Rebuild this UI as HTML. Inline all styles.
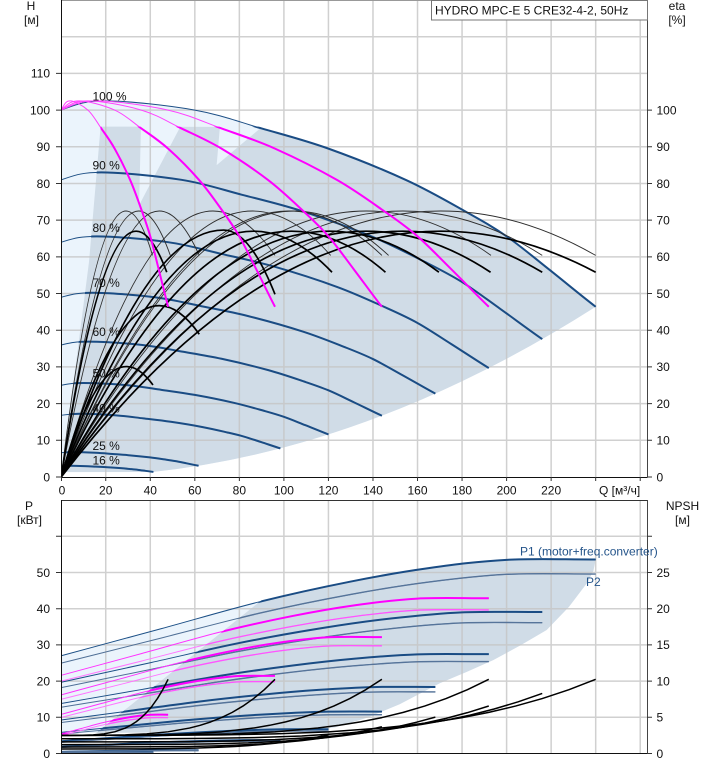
<!DOCTYPE html>
<html><head><meta charset="utf-8">
<style>
html,body{margin:0;padding:0;background:#fff;width:718px;height:764px;overflow:hidden}
svg{display:block}
text{font-family:"Liberation Sans",Arial,sans-serif;font-size:12px;fill:#111}
</style></head>
<body>
<svg width="718" height="764" viewBox="0 0 718 764" xmlns="http://www.w3.org/2000/svg">
<defs>
<path id="h100" fill="none" vector-effect="non-scaling-stroke" d="M0,100 C6.7,101.5 10,102.5 20,102.5 C30,102.5 48.33,101.25 60,100 C71.67,98.75 80,96.75 90,95 C100,93.25 109.17,91.85 120,89.5 C130.83,87.15 144.67,83.78 155,80.9 C165.33,78.02 174.5,74.75 182,72.2 C189.5,69.65 193.83,68.2 200,65.6 C206.17,63 212.33,59.8 219,56.6 C225.67,53.4 233,49.67 240,46.4"/>
<path id="ea" fill="none" vector-effect="non-scaling-stroke" d="M0,0 Q0.355,1 0.71,1 Q0.855,1 1,0.833"/>
<path id="eb" fill="none" vector-effect="non-scaling-stroke" d="M0,0 Q0.38,1 0.76,1 Q0.88,1 1,0.74"/>
<path id="p1" fill="none" vector-effect="non-scaling-stroke" d="M0,27 C15,29.5 30.17,32.02 45,34.5 C59.83,36.98 74.83,39.73 89,41.9 C103.17,44.07 117.33,45.95 130,47.5 C142.67,49.05 153.33,50.2 165,51.2 C176.67,52.2 187.5,53.1 200,53.5 C212.5,53.9 226.67,53.57 240,53.6"/>
<polyline id="np" fill="none" vector-effect="non-scaling-stroke" stroke-linejoin="round" points="0,0.245 0.2,0.2462 0.3,0.2511 0.4,0.2643 0.5,0.2922 0.6,0.3429 0.65,0.38 0.7,0.4263 0.75,0.484 0.8,0.5543 0.85,0.639 0.9,0.7403 0.95,0.86 1,1"/>
<clipPath id="cTop"><rect x="61" y="0" width="586.5" height="477"/></clipPath>
<clipPath id="cBot"><rect x="61" y="500" width="586.5" height="253.5"/></clipPath>
<clipPath id="thkTop"><polygon points="61,480 62,472 89,262 100.6,126.6 650,126.6 650,480"/></clipPath>
<clipPath id="thkBot"><polygon points="61,733 96,733 336.6,540 650,540 650,760 61,760"/></clipPath>
</defs>

<!-- ================= TOP CHART ================= -->
<g clip-path="url(#cTop)">
  <g transform="translate(61.2,477) scale(2.227,-3.669)">
    <path fill="#ebf4fc" d="M0,1.3 L0,100 C6.7,101.5 10,102.5 20,102.5 C30,102.5 48.33,101.25 60,100 C71.67,98.75 80,96.75 90,95 C100,93.25 109.17,91.85 120,89.5 C130.83,87.15 144.67,83.78 155,80.9 C165.33,78.02 174.5,74.75 182,72.2 C189.5,69.65 193.83,68.2 200,65.6 C206.17,63 212.33,59.8 219,56.6 C225.67,53.4 233,49.67 240,46.4 Q140.5,7.927 41,1.354 Z"/>
    <path fill="#d0dce7" d="M0.36,1.36 L12.48,58.6 L17.7,95.5 L88,95.4 L90,95 C100,93.25 109.17,91.85 120,89.5 C130.83,87.15 144.67,83.78 155,80.9 C165.33,78.02 174.5,74.75 182,72.2 C189.5,69.65 193.83,68.2 200,65.6 C206.17,63 212.33,59.8 219,56.6 C225.67,53.4 233,49.67 240,46.4 Q140.5,7.927 41,1.354 Z"/>
    <path fill="#ebf4fc" d="M35.8,95.6 L53.6,95.6 L35,74.1 Z M71.3,95.6 L89.9,95.3 L69.8,85 Z"/>
  </g>
  <path stroke="#c4c4c4" stroke-opacity="0.8" stroke-width="1.5" fill="none" d="M105.74,0V477M150.28,0V477M194.82,0V477M239.36,0V477M283.9,0V477M328.44,0V477M372.98,0V477M417.52,0V477M462.06,0V477M506.6,0V477M551.14,0V477M595.68,0V477M640.22,0V477M61,440.31H647M61,403.62H647M61,366.93H647M61,330.24H647M61,293.55H647M61,256.86H647M61,220.17H647M61,183.48H647M61,146.79H647M61,110.1H647M61,73.41H647M61,36.72H647"/>

  <!-- blue speed curves thin -->
  <g transform="translate(61.2,477) scale(2.227,-3.669)" stroke="#1d4f85" stroke-width="1">
    <use href="#h100"/>
    <use href="#h100" transform="scale(0.9,0.81)"/>
    <use href="#h100" transform="scale(0.8,0.64)"/>
    <use href="#h100" transform="scale(0.7,0.49)"/>
    <use href="#h100" transform="scale(0.6,0.36)"/>
    <use href="#h100" transform="scale(0.5,0.25)"/>
    <use href="#h100" transform="scale(0.41,0.1681)"/>
    <use href="#h100" transform="scale(0.257,0.066)"/>
    <use href="#h100" transform="scale(0.1725,0.02976)"/>
  </g>
  <g clip-path="url(#thkTop)">
  <g transform="translate(61.2,477) scale(2.227,-3.669)" stroke="#1a4c84" stroke-width="2">
    <use href="#h100"/>
    <use href="#h100" transform="scale(0.9,0.81)"/>
    <use href="#h100" transform="scale(0.8,0.64)"/>
    <use href="#h100" transform="scale(0.7,0.49)"/>
    <use href="#h100" transform="scale(0.6,0.36)"/>
    <use href="#h100" transform="scale(0.5,0.25)"/>
    <use href="#h100" transform="scale(0.41,0.1681)"/>
    <use href="#h100" transform="scale(0.257,0.066)"/>
    <use href="#h100" transform="scale(0.1725,0.02976)"/>
  </g>
  </g>

  <!-- black efficiency curves -->
  <g transform="translate(61.2,477) scale(2.227,-3.669)" stroke="#2e2e2e" stroke-width="0.9">
    <use href="#ea" transform="scale(41,72.5)"/>
    <use href="#ea" transform="scale(49,72.5)"/>
    <use href="#ea" transform="scale(62,72.5)"/>
    <use href="#ea" transform="scale(96,72.5)"/>
    <use href="#ea" transform="scale(121,72.5)"/>
    <use href="#ea" transform="scale(144,72.5)"/>
    <use href="#ea" transform="scale(147,72.5)"/>
    <use href="#ea" transform="scale(193,72.5)"/>
    <use href="#ea" transform="scale(216,72.5)"/>
    <use href="#ea" transform="scale(240,72.5)"/>
  </g>
  <g transform="translate(61.2,477) scale(2.227,-3.669)" stroke="#000" stroke-width="1.7">
    <use href="#ea" transform="scale(47.4,67)"/>
    <use href="#eb" transform="scale(96,67.3)"/>
    <use href="#ea" transform="scale(121.6,67)"/>
    <use href="#ea" transform="scale(145.6,67)"/>
    <use href="#ea" transform="scale(169.6,67)"/>
    <use href="#ea" transform="scale(192.8,67)"/>
    <use href="#ea" transform="scale(216,67)"/>
    <use href="#ea" transform="scale(240,67)"/>
    <use href="#ea" transform="scale(62,46.7)"/>
    <use href="#ea" transform="scale(41.2,30.1)"/>
  </g>

  <!-- magenta n-pump curves -->
  <g transform="translate(61.2,477) scale(2.227,-3.669)" stroke="#ff44ff" stroke-width="1">
    <use href="#h100" transform="scale(0.2,1)"/>
    <use href="#h100" transform="scale(0.4,1)"/>
    <use href="#h100" transform="scale(0.6,1)"/>
    <use href="#h100" transform="scale(0.8,1)"/>
  </g>
  <g clip-path="url(#thkTop)">
  <g transform="translate(61.2,477) scale(2.227,-3.669)" stroke="#ff00ff" stroke-width="2">
    <use href="#h100" transform="scale(0.2,1)"/>
    <use href="#h100" transform="scale(0.4,1)"/>
    <use href="#h100" transform="scale(0.6,1)"/>
    <use href="#h100" transform="scale(0.8,1)"/>
  </g>
  </g>
</g>

<!-- top frame -->
<path d="M61,0.5H647.5" stroke="#999" stroke-width="1"/>
<path d="M61.5,0V477.5H647.5" stroke="#111" stroke-width="1" fill="none"/>
<path d="M647.5,0V477" stroke="#444" stroke-width="1"/>
<path stroke="#333" stroke-width="1" fill="none" d="M56,477H61M56,440.31H61M56,403.62H61M56,366.93H61M56,330.24H61M56,293.55H61M56,256.86H61M56,220.17H61M56,183.48H61M56,146.79H61M56,110.1H61M56,73.41H61M647,477H652M647,440.31H652M647,403.62H652M647,366.93H652M647,330.24H652M647,293.55H652M647,256.86H652M647,220.17H652M647,183.48H652M647,146.79H652M647,110.1H652M61.5,477V481M105.74,477V481M150.28,477V481M194.82,477V481M239.36,477V481M283.9,477V481M328.44,477V481M372.98,477V481M417.52,477V481M462.06,477V481M506.6,477V481M551.14,477V481M595.68,477V481M640.22,477V481"/>

<!-- title box -->
<rect x="431.5" y="0.5" width="216" height="19.5" fill="#fff" stroke="#777" stroke-width="1"/>
<text x="435" y="14.5">HYDRO MPC-E 5 CRE32-4-2, 50Hz</text>

<!-- top axis labels -->
<text x="31" y="10" text-anchor="middle">H</text>
<text x="31.5" y="24" text-anchor="middle">[м]</text>
<text x="677" y="10" text-anchor="middle">eta</text>
<text x="677" y="24" text-anchor="middle">[%]</text>
<g text-anchor="end">
<text x="50" y="481.3">0</text>
<text x="50" y="444.6">10</text>
<text x="50" y="407.9">20</text>
<text x="50" y="371.2">30</text>
<text x="50" y="334.5">40</text>
<text x="50" y="297.9">50</text>
<text x="50" y="261.2">60</text>
<text x="50" y="224.5">70</text>
<text x="50" y="187.8">80</text>
<text x="50" y="151.1">90</text>
<text x="50" y="114.4">100</text>
<text x="50" y="77.7">110</text>
</g>
<g text-anchor="start">
<text x="656.5" y="481.3">0</text>
<text x="656.5" y="444.6">10</text>
<text x="656.5" y="407.9">20</text>
<text x="656.5" y="371.2">30</text>
<text x="656.5" y="334.5">40</text>
<text x="656.5" y="297.9">50</text>
<text x="656.5" y="261.2">60</text>
<text x="656.5" y="224.5">70</text>
<text x="656.5" y="187.8">80</text>
<text x="656.5" y="151.1">90</text>
<text x="656.5" y="114.4">100</text>
</g>
<g text-anchor="middle">
<text x="62" y="494.5">0</text>
<text x="105.74" y="494.5">20</text>
<text x="150.28" y="494.5">40</text>
<text x="194.82" y="494.5">60</text>
<text x="239.36" y="494.5">80</text>
<text x="283.9" y="494.5">100</text>
<text x="328.44" y="494.5">120</text>
<text x="372.98" y="494.5">140</text>
<text x="417.52" y="494.5">160</text>
<text x="462.06" y="494.5">180</text>
<text x="506.6" y="494.5">200</text>
<text x="551.14" y="494.5">220</text>
</g>
<text x="599" y="494.5">Q [м³/ч]</text>

<!-- speed labels -->
<g>
<text x="92.5" y="100.3">100 %</text>
<text x="92.5" y="169.3">90 %</text>
<text x="92.5" y="232">80 %</text>
<text x="92.5" y="287">70 %</text>
<text x="92.5" y="336">60 %</text>
<text x="92.5" y="377.6">50 %</text>
<text x="92.5" y="412.6">40 %</text>
<text x="92.5" y="450">25 %</text>
<text x="92.5" y="464.3">16 %</text>
</g>

<!-- ================= BOTTOM CHART ================= -->
<g clip-path="url(#cBot)">
  <g transform="translate(61.2,753.5) scale(2.227,-3.62)">
    <path fill="#ebf4fc" d="M0,5.66 L0,27 C15,29.5 30.17,32.02 45,34.5 C59.83,36.98 74.83,39.73 89,41.9 L15.6,5.66 Z"/>
    <path fill="#d0dce7" d="M15.6,5.66 L89,41.9 C103.17,44.07 117.33,45.95 130,47.5 C142.67,49.05 153.33,50.2 165,51.2 C176.67,52.2 187.5,53.1 200,53.5 C212.5,53.9 226.67,53.57 240,53.6 L239,50.5 L236,47 L228,40.5 L218,34.1 L206,29.8 L194,25.8 L182,22.5 L170,19.4 L152,13.6 L137,9.8 L123,7.2 L110,6.3 L100,6 Z"/>
  </g>
  <path stroke="#c4c4c4" stroke-opacity="0.8" stroke-width="1.5" fill="none" d="M105.74,500V754M150.28,500V754M194.82,500V754M239.36,500V754M283.9,500V754M328.44,500V754M372.98,500V754M417.52,500V754M462.06,500V754M506.6,500V754M551.14,500V754M595.68,500V754M640.22,500V754M61,717.3H647M61,681.1H647M61,644.9H647M61,608.7H647M61,572.5H647M61,536.3H647"/>

  <!-- thin blue P -->
  <g transform="translate(61.2,753.5) scale(2.227,-3.62)" stroke-width="1">
    <g stroke="#1b4f86">
      <use href="#p1"/>
      <use href="#p1" transform="scale(0.9,0.729)"/>
      <use href="#p1" transform="scale(0.8,0.512)"/>
      <use href="#p1" transform="scale(0.7,0.343)"/>
      <use href="#p1" transform="scale(0.6,0.216)"/>
      <use href="#p1" transform="scale(0.5,0.125)"/>
      <use href="#p1" transform="scale(0.41,0.0689)"/>
      <use href="#p1" transform="scale(0.257,0.017)"/>
      <use href="#p1" transform="scale(0.1725,0.00513)"/>
    </g>
    <g stroke="#4f6f96">
      <use href="#p1" transform="scale(1,0.925)"/>
      <use href="#p1" transform="scale(0.9,0.6743)"/>
      <use href="#p1" transform="scale(0.8,0.4736)"/>
      <use href="#p1" transform="scale(0.7,0.3173)"/>
      <use href="#p1" transform="scale(0.6,0.1998)"/>
      <use href="#p1" transform="scale(0.5,0.1156)"/>
      <use href="#p1" transform="scale(0.41,0.0637)"/>
      <use href="#p1" transform="scale(0.257,0.0157)"/>
      <use href="#p1" transform="scale(0.1725,0.00475)"/>
    </g>
  </g>
  <g clip-path="url(#thkBot)">
  <g transform="translate(61.2,753.5) scale(2.227,-3.62)">
    <g stroke="#1a4c84" stroke-width="2">
      <use href="#p1"/>
      <use href="#p1" transform="scale(0.9,0.729)"/>
      <use href="#p1" transform="scale(0.8,0.512)"/>
      <use href="#p1" transform="scale(0.7,0.343)"/>
      <use href="#p1" transform="scale(0.6,0.216)"/>
      <use href="#p1" transform="scale(0.5,0.125)"/>
      <use href="#p1" transform="scale(0.41,0.0689)"/>
      <use href="#p1" transform="scale(0.257,0.017)"/>
      <use href="#p1" transform="scale(0.1725,0.00513)"/>
    </g>
    <g stroke="#56749a" stroke-width="1.4">
      <use href="#p1" transform="scale(1,0.925)"/>
      <use href="#p1" transform="scale(0.9,0.6743)"/>
      <use href="#p1" transform="scale(0.8,0.4736)"/>
      <use href="#p1" transform="scale(0.7,0.3173)"/>
      <use href="#p1" transform="scale(0.6,0.1998)"/>
      <use href="#p1" transform="scale(0.5,0.1156)"/>
      <use href="#p1" transform="scale(0.41,0.0637)"/>
      <use href="#p1" transform="scale(0.257,0.0157)"/>
      <use href="#p1" transform="scale(0.1725,0.00475)"/>
    </g>
  </g>
  </g>

  <!-- magenta P -->
  <g transform="translate(61.2,753.5) scale(2.227,-3.62)" stroke-width="1">
    <g stroke="#ff33ff">
      <use href="#p1" transform="scale(0.2,0.2)"/>
      <use href="#p1" transform="scale(0.4,0.4)"/>
      <use href="#p1" transform="scale(0.6,0.6)"/>
      <use href="#p1" transform="scale(0.8,0.8)"/>
    </g>
    <g stroke="#ff77ff">
      <use href="#p1" transform="scale(0.2,0.185)"/>
      <use href="#p1" transform="scale(0.4,0.37)"/>
      <use href="#p1" transform="scale(0.6,0.555)"/>
      <use href="#p1" transform="scale(0.8,0.74)"/>
    </g>
  </g>
  <g clip-path="url(#thkBot)">
  <g transform="translate(61.2,753.5) scale(2.227,-3.62)">
    <g stroke="#ff00ff" stroke-width="2">
      <use href="#p1" transform="scale(0.2,0.2)"/>
      <use href="#p1" transform="scale(0.4,0.4)"/>
      <use href="#p1" transform="scale(0.6,0.6)"/>
      <use href="#p1" transform="scale(0.8,0.8)"/>
    </g>
    <g stroke="#ff55ff" stroke-width="1.3">
      <use href="#p1" transform="scale(0.2,0.185)"/>
      <use href="#p1" transform="scale(0.4,0.37)"/>
      <use href="#p1" transform="scale(0.6,0.555)"/>
      <use href="#p1" transform="scale(0.8,0.74)"/>
    </g>
  </g>
  </g>

  <!-- NPSH black -->
  <g transform="translate(61.2,753.5) scale(2.227,-3.62)" stroke="#000" stroke-width="1.5">
    <use href="#np" transform="scale(48,20.5)"/>
    <use href="#np" transform="scale(96,20.5)"/>
    <use href="#np" transform="scale(144,20.5)"/>
    <use href="#np" transform="scale(192,20.5)"/>
    <use href="#np" transform="scale(240,20.5)"/>
    <use href="#np" transform="scale(216,16.6)"/>
    <use href="#np" transform="scale(192,13.12)"/>
    <use href="#np" transform="scale(168,10.05)"/>
    <use href="#np" transform="scale(144,7.38)"/>
    <use href="#np" transform="scale(120,5.125)"/>
  </g>
</g>

<!-- bottom frame -->
<path d="M61,500.5H647.5" stroke="#333" stroke-width="1"/>
<path d="M61.5,500V753.5H647.5" stroke="#111" stroke-width="1" fill="none"/>
<path d="M647.5,500V754" stroke="#444" stroke-width="1"/>
<path stroke="#333" stroke-width="1" fill="none" d="M56,753.5H61M56,717.3H61M56,681.1H61M56,644.9H61M56,608.7H61M56,572.5H61M56,536.3H61M647,753.5H652M647,717.3H652M647,681.1H652M647,644.9H652M647,608.7H652M647,572.5H652M647,536.3H652"/>

<text x="29" y="510" text-anchor="middle">P</text>
<text x="29.5" y="524" text-anchor="middle">[кВт]</text>
<text x="682.5" y="510" text-anchor="middle">NPSH</text>
<text x="682.5" y="524" text-anchor="middle">[м]</text>
<g text-anchor="end">
<text x="50" y="757.8">0</text>
<text x="50" y="721.6">10</text>
<text x="50" y="685.4">20</text>
<text x="50" y="649.2">30</text>
<text x="50" y="613">40</text>
<text x="50" y="576.8">50</text>
</g>
<g text-anchor="start">
<text x="656.5" y="757.8">0</text>
<text x="656.5" y="721.6">5</text>
<text x="656.5" y="685.4">10</text>
<text x="656.5" y="649.2">15</text>
<text x="656.5" y="613">20</text>
<text x="656.5" y="576.8">25</text>
</g>
<text x="520" y="555.5" style="fill:#24548a">P1 (motor+freq.converter)</text>
<text x="586" y="586" style="fill:#24548a">P2</text>
</svg>
</body></html>
